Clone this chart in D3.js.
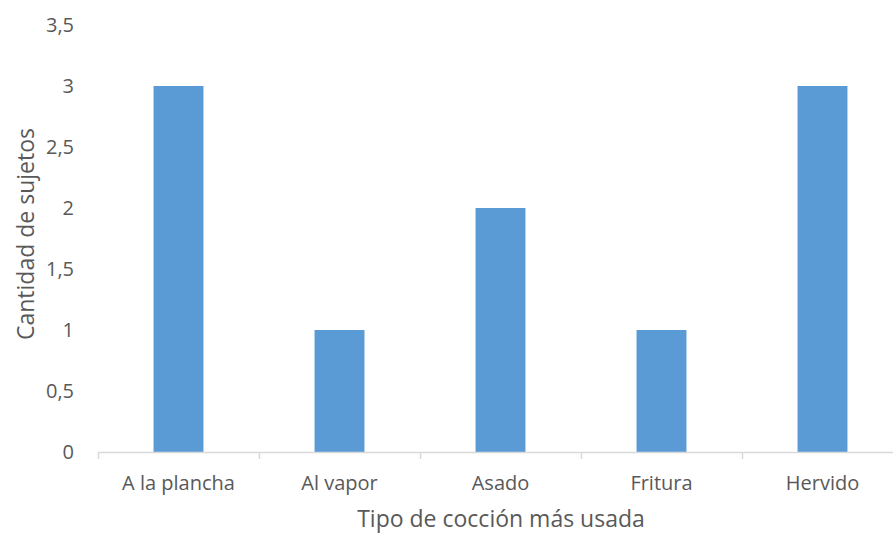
<!DOCTYPE html>
<html><head><meta charset="utf-8">
<script src="https://cdn.jsdelivr.net/npm/d3@7"></script>
<style>body{margin:0;background:#fff;}svg{display:block;}</style>
</head><body>
<svg id="c" width="893" height="534"></svg>
<script>
const categories = ["A la plancha", "Al vapor", "Asado", "Fritura", "Hervido"];
const values = [3, 1, 2, 1, 3];
const yTicks = [0, 0.5, 1, 1.5, 2, 2.5, 3, 3.5];
const xTitle = "Tipo de cocción más usada";
const yTitle = "Cantidad de sujetos";

const svg = d3.select("#c");
const font = "'Open Sans', 'Liberation Sans', sans-serif";
const x0 = 98, x1 = 903, yBase = 452, yTop = 25;
const x = d3.scaleBand().domain(categories).range([x0, x1]).paddingInner(0.69).paddingOuter(0.345);
const y = d3.scaleLinear().domain([0, 3.5]).range([yBase, yTop]);
const fmt = v => String(v).replace(".", ",");

svg.selectAll("rect.bar").data(values).enter().append("rect")
  .attr("class", "bar")
  .attr("x", (d, i) => x(categories[i]))
  .attr("width", x.bandwidth())
  .attr("y", d => y(d))
  .attr("height", d => y(0) - y(d))
  .attr("fill", "#5B9BD5");

// y tick labels
svg.append("g").selectAll("text").data(yTicks).enter().append("text")
  .attr("x", 74).attr("y", d => y(d)).attr("dy", "0.35em")
  .attr("text-anchor", "end")
  .attr("font-family", font).attr("font-size", 20).attr("fill", "#595959")
  .text(fmt);

// x axis
const band = d3.scaleLinear().domain([0, categories.length]).range([x0, x1]);
const g = svg.append("g");
g.append("line").attr("x1", x0).attr("x2", x1).attr("y1", yBase + 0.5).attr("y2", yBase + 0.5)
  .attr("stroke", "#d9d9d9").attr("stroke-width", 1.5);
g.selectAll("line.t").data(d3.range(categories.length + 1)).enter().append("line")
  .attr("class", "t")
  .attr("x1", d => Math.round(band(d)) + 0.5).attr("x2", d => Math.round(band(d)) + 0.5)
  .attr("y1", yBase).attr("y2", yBase + 7)
  .attr("stroke", "#d9d9d9").attr("stroke-width", 1.5);
g.selectAll("text").data(categories).enter().append("text")
  .attr("x", d => x(d) + x.bandwidth() / 2).attr("y", 490)
  .attr("text-anchor", "middle")
  .attr("font-family", font).attr("font-size", 20).attr("fill", "#595959")
  .text(d => d);

svg.append("text").attr("x", 501).attr("y", 527).attr("text-anchor", "middle")
  .attr("font-family", font).attr("font-size", 23).attr("fill", "#595959").text(xTitle);
svg.append("text").attr("transform", "translate(34,234) rotate(-90)").attr("text-anchor", "middle")
  .attr("font-family", font).attr("font-size", 23).attr("fill", "#595959").text(yTitle);
</script>
</body></html>
